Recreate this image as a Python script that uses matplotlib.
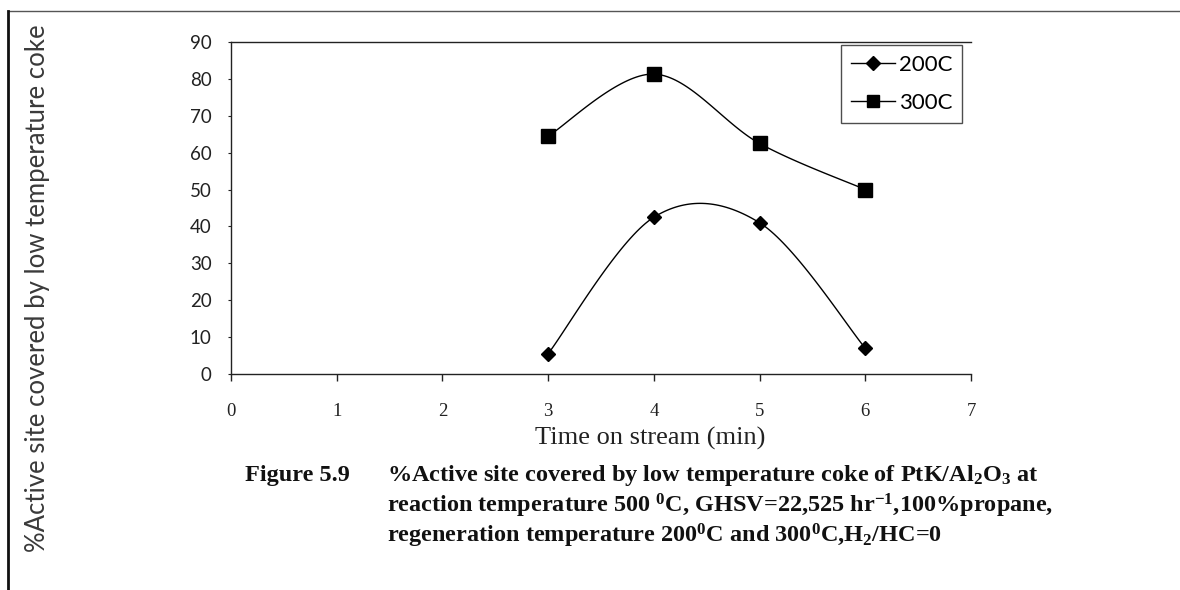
import numpy as np
import matplotlib
matplotlib.use("Agg")
import matplotlib.pyplot as plt
from matplotlib.lines import Line2D

# Data: low-temperature coke coverage vs. time on stream
time_min = [3, 4, 5, 6]
series_labels = ["200C", "300C"]
coverage_200 = [5.5, 42.5, 41.0, 7.0]
coverage_300 = [64.5, 81.3, 62.5, 50.0]
x_ticks = [0, 1, 2, 3, 4, 5, 6, 7]
y_ticks = [0, 10, 20, 30, 40, 50, 60, 70, 80, 90]

plt.rcParams["mathtext.fontset"] = "custom"
plt.rcParams["mathtext.rm"] = "Liberation Serif:bold"
plt.rcParams["mathtext.it"] = "Liberation Serif:bold"
plt.rcParams["mathtext.bf"] = "Liberation Serif:bold"

W, H = 1180, 590


def smooth(xs, ys, n=40):
    """Spreadsheet-style smoothed line: cubic Bezier through each point."""
    p = np.column_stack([xs, ys]).astype(float)
    ext = np.vstack([p[0], p, p[-1]])
    out = []
    t = np.linspace(0, 1, n)[:, None]
    for i in range(len(p) - 1):
        p0, p1, p2, p3 = ext[i], ext[i + 1], ext[i + 2], ext[i + 3]
        c1 = p1 + (p2 - p0) / 6.0
        c2 = p2 - (p3 - p1) / 6.0
        seg = ((1 - t) ** 3) * p1 + 3 * ((1 - t) ** 2) * t * c1 \
            + 3 * (1 - t) * t ** 2 * c2 + t ** 3 * p2
        out.append(seg if i == 0 else seg[1:])
    out = np.vstack(out)
    return out[:, 0], out[:, 1]


fig = plt.figure(figsize=(W / 100, H / 100), dpi=100)
fig.patch.set_facecolor("white")

ax_l, ax_r, ax_t, ax_b = 231, 971, 42, 374
ax = fig.add_axes([ax_l / W, 1 - ax_b / H, (ax_r - ax_l) / W, (ax_b - ax_t) / H])

for ys, mk, ms in [(coverage_200, "D", 7.0), (coverage_300, "s", 9.5)]:
    sx, sy = smooth(time_min, ys)
    ax.plot(sx, sy, color="black", lw=1.0)
    ax.plot(time_min, ys, linestyle="none", marker=mk, ms=ms,
            color="black", markeredgecolor="black")

ax.set_xlim(0, 7)
ax.set_ylim(0, 90)
ax.set_xticks(x_ticks)
ax.set_yticks(y_ticks)
ax.spines["right"].set_visible(False)
for s in ["left", "bottom", "top"]:
    ax.spines[s].set_linewidth(1.0)
    ax.spines[s].set_color("#222222")
ax.tick_params(axis="x", direction="out", length=5, width=1, pad=16,
               labelsize=13.5, colors="#222222")
ax.tick_params(axis="y", direction="out", length=2, width=0.8, pad=12,
               labelsize=13.5, colors="#222222")
for lab in ax.get_xticklabels():
    lab.set_family("Liberation Serif")
for lab in ax.get_yticklabels():
    lab.set_family("Lato")

fig.text(650 / W, 1 - 438 / H, "Time on stream (min)", family="Liberation Serif",
         fontsize=19, ha="center", va="center", color="#222222")

handles = [Line2D([], [], color="black", lw=1.0, marker="D", ms=7),
           Line2D([], [], color="black", lw=1.0, marker="s", ms=8.5)]
leg = ax.legend(handles, series_labels, loc="upper right",
                bbox_to_anchor=(0.988, 0.991), borderaxespad=0.0,
                frameon=True, fancybox=False,
                edgecolor="#222222", handlelength=2.0, handletextpad=0.15,
                borderpad=0.45, labelspacing=0.8,
                prop={"family": "Lato", "size": 16})
leg.get_frame().set_linewidth(1.0)

# Vertical axis title set far to the left
fig.text(38 / W, 1 - 288 / H, "%Active site covered by low temperature coke",
         rotation=90, ha="center", va="center", family="Lato",
         fontweight="normal", fontsize=18.5, color="#3a3a3a")

# Caption
cap = dict(family="Liberation Serif", fontweight="bold", fontsize=17.5,
           color="#111111", va="center", ha="left")
fig.text(245 / W, 1 - 476 / H, "Figure 5.9", **cap)
fig.text(387 / W, 1 - 476 / H,
         "%Active site covered by low temperature coke of PtK/Al$_2$O$_3$ at",
         **cap)
fig.text(387 / W, 1 - 506 / H,
         "reaction temperature 500 $^0$C, GHSV=22,525 hr$^{-1}$,100%propane,",
         **cap)
fig.text(387 / W, 1 - 536 / H,
         "regeneration temperature 200$^0$C and 300$^0$C,H$_2$/HC=0", **cap)

# Page rules
fig.add_artist(Line2D([8 / W, 1.0], [1 - 11 / H, 1 - 11 / H],
                      transform=fig.transFigure, color="#555555", lw=1.0))
fig.add_artist(Line2D([8 / W, 8 / W], [1 - 11 / H, 0.0],
                      transform=fig.transFigure, color="#111111", lw=2.0))

fig.savefig("out.png", dpi=100, facecolor="white")
